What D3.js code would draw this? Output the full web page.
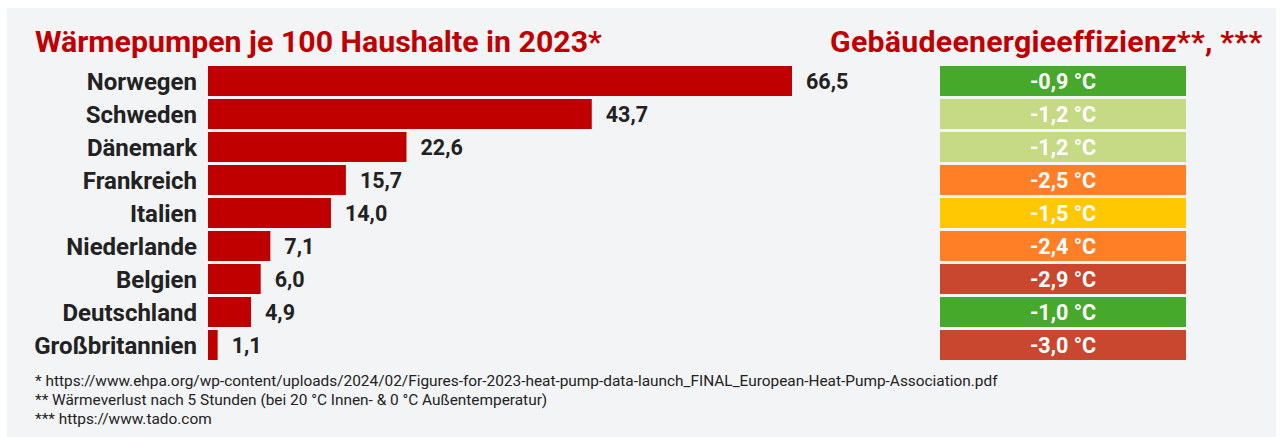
<!DOCTYPE html>
<html>
<head>
<meta charset="utf-8">
<script src="https://cdn.jsdelivr.net/npm/d3@7"></script>
<style>
  body { margin: 0; background: #fff; }
  svg text { font-family: Roboto, "Open Sans", sans-serif; }
</style>
</head>
<body>
<script>
// data
const countries = ["Norwegen", "Schweden", "Dänemark", "Frankreich", "Italien",
                   "Niederlande", "Belgien", "Deutschland", "Großbritannien"];
const pumpsPer100 = [66.5, 43.7, 22.6, 15.7, 14.0, 7.1, 6.0, 4.9, 1.1];
const heatLoss = [-0.9, -1.2, -1.2, -2.5, -1.5, -2.4, -2.9, -1.0, -3.0];
const lossBreaks = [-2.7, -2.0, -1.4, -1.1];
const lossColours = ["#c9472f", "#ff7f27", "#ffc800", "#c6da85", "#46a92b"];
const titleLeft = "Wärmepumpen je 100 Haushalte in 2023*";
const titleRight = "Gebäudeenergieeffizienz**, ***";
const footnotes = [
  "* https://www.ehpa.org/wp-content/uploads/2024/02/Figures-for-2023-heat-pump-data-launch_FINAL_European-Heat-Pump-Association.pdf",
  "** Wärmeverlust nach 5 Stunden (bei 20 °C Innen- & 0 °C Außentemperatur)",
  "*** https://www.tado.com"
];

const W = 1288, H = 437;
const red = "#c00000";
const ink = "#222222";

const de = d3.formatLocale({decimal: ",", thousands: ".", grouping: [3], currency: ["", " €"], minus: "-"});
const fmt = de.format(".1f");

const rows = countries.map((c, i) => ({country: c, pumps: pumpsPer100[i], loss: heatLoss[i]}));

const svg = d3.select("body").append("svg")
    .attr("width", W)
    .attr("height", H);

svg.append("rect")
    .attr("x", 7).attr("y", 8)
    .attr("width", 1269).attr("height", H - 8)
    .attr("fill", "#f3f4f6");

const y = d3.scaleBand()
    .domain(countries)
    .range([64.5, 361.5])
    .paddingInner(3 / 33)
    .paddingOuter(1.5 / 33);

const x = d3.scaleLinear()
    .domain([0, 66.5])
    .range([208, 792]);

const colour = d3.scaleThreshold()
    .domain(lossBreaks)
    .range(lossColours);

// titles
svg.append("text")
    .attr("x", 35).attr("y", 52)
    .attr("fill", red)
    .style("font-size", "30.3px").style("font-weight", "bold")
    .text(titleLeft);

svg.append("text")
    .attr("x", 830).attr("y", 52)
    .attr("fill", red)
    .style("font-size", "30.3px").style("font-weight", "bold")
    .style("letter-spacing", "0.25px")
    .text(titleRight);

// country labels
svg.append("g").selectAll("text")
    .data(rows)
    .join("text")
    .attr("x", 197)
    .attr("y", d => y(d.country) + y.bandwidth() / 2)
    .attr("dy", "0.36em")
    .attr("text-anchor", "end")
    .attr("fill", ink)
    .style("font-size", "24px").style("font-weight", "bold")
    .text(d => d.country);

// bars
svg.append("g").selectAll("rect")
    .data(rows)
    .join("rect")
    .attr("x", x(0))
    .attr("y", d => y(d.country))
    .attr("width", d => x(d.pumps) - x(0))
    .attr("height", y.bandwidth())
    .attr("fill", red);

svg.append("g").selectAll("text")
    .data(rows)
    .join("text")
    .attr("x", d => x(d.pumps) + 14)
    .attr("y", d => y(d.country) + y.bandwidth() / 2)
    .attr("dy", "0.36em")
    .attr("fill", ink)
    .style("font-size", "21.5px").style("font-weight", "bold")
    .text(d => fmt(d.pumps));

// efficiency boxes
svg.append("g").selectAll("rect")
    .data(rows)
    .join("rect")
    .attr("x", 940)
    .attr("y", d => y(d.country))
    .attr("width", 246)
    .attr("height", y.bandwidth())
    .attr("fill", d => colour(d.loss));

svg.append("g").selectAll("text")
    .data(rows)
    .join("text")
    .attr("x", 1063)
    .attr("y", d => y(d.country) + y.bandwidth() / 2)
    .attr("dy", "0.36em")
    .attr("text-anchor", "middle")
    .attr("fill", "#ffffff")
    .style("font-size", "21.5px").style("font-weight", "bold")
    .text(d => fmt(d.loss) + " °C");

// footnotes
svg.append("g").selectAll("text")
    .data(footnotes)
    .join("text")
    .attr("x", 35)
    .attr("y", (d, i) => 386 + i * 19)
    .attr("fill", ink)
    .style("font-size", "15.4px")
    .text(d => d);
</script>
</body>
</html>
